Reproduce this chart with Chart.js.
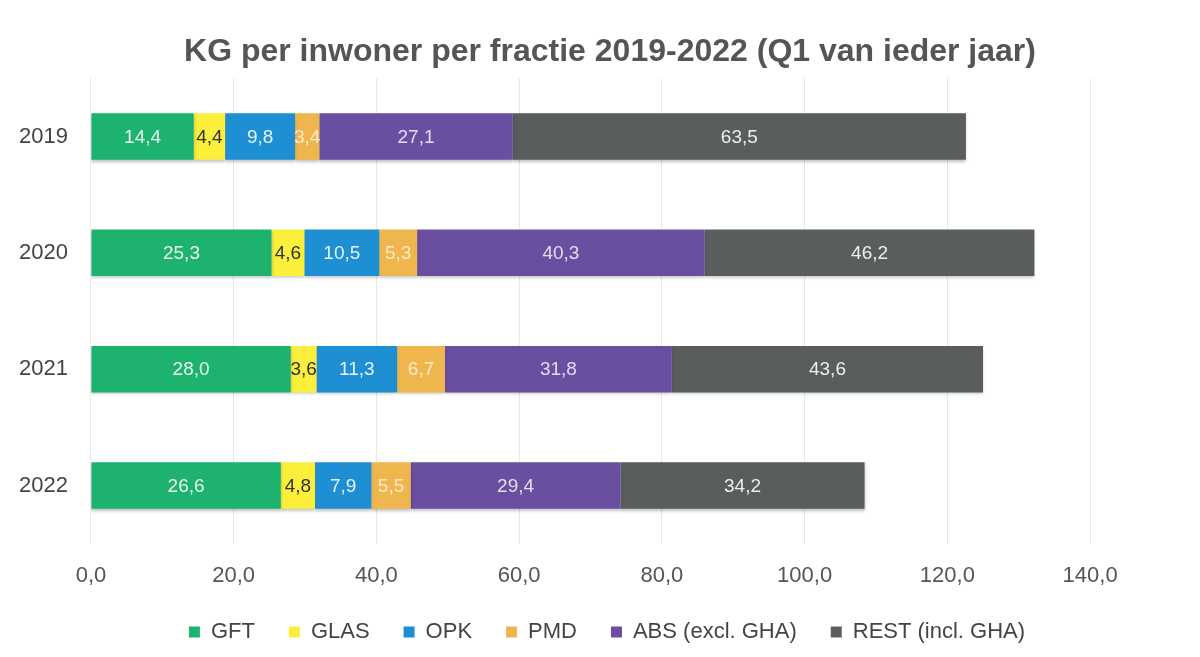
<!DOCTYPE html>
<html>
<head>
<meta charset="utf-8">
<script src="https://cdn.jsdelivr.net/npm/chart.js@4"></script>
<style>
  html, body { margin: 0; padding: 0; background: #ffffff; }
  #wrap { width: 1200px; height: 657px; }
</style>
</head>
<body>
<div id="wrap"><canvas id="chart" width="1200" height="657"></canvas></div>
<script>
const years = ['2019', '2020', '2021', '2022'];
const gft = [14.4, 25.3, 28.0, 26.6];
const glas = [4.4, 4.6, 3.6, 4.8];
const opk = [9.8, 10.5, 11.3, 7.9];
const pmd = [3.4, 5.3, 6.7, 5.5];
const abs = [27.1, 40.3, 31.8, 29.4];
const rest = [63.5, 46.2, 43.6, 34.2];
const xTicks = [0, 20, 40, 60, 80, 100, 120, 140];

const FONT = '"Liberation Sans", Arial, sans-serif';

const series = [
  { label: 'GFT', data: gft, color: '#1db26e', text: '#e8f5ee' },
  { label: 'GLAS', data: glas, color: '#fbef3c', text: '#333333' },
  { label: 'OPK', data: opk, color: '#1e8fd2', text: '#e6f1fa' },
  { label: 'PMD', data: pmd, color: '#f0b64e', text: '#fbe9c8' },
  { label: 'ABS (excl. GHA)', data: abs, color: '#6a4ea0', text: '#e4ddf0' },
  { label: 'REST (incl. GHA)', data: rest, color: '#5a5d5d', text: '#eeeeee' },
];

function fmt(v) {
  return v.toFixed(1).replace('.', ',');
}

// draws the value inside each bar segment
const valueLabels = {
  id: 'valueLabels',
  afterDatasetsDraw(chart) {
    const ctx = chart.ctx;
    ctx.save();
    ctx.font = '19px ' + FONT;
    ctx.textAlign = 'center';
    ctx.textBaseline = 'middle';
    chart.data.datasets.forEach((ds, i) => {
      const meta = chart.getDatasetMeta(i);
      meta.data.forEach((bar, j) => {
        ctx.fillStyle = series[i].text;
        const cx = (bar.x + bar.base) / 2;
        ctx.fillText(fmt(ds.data[j]), cx, bar.y + 1);
      });
    });
    ctx.restore();
  },
};

// soft shadow under the bars
const barShadow = {
  id: 'barShadow',
  beforeDatasetsDraw(chart) {
    chart.ctx.save();
    chart.ctx.shadowColor = 'rgba(0,0,0,0.25)';
    chart.ctx.shadowBlur = 3;
    chart.ctx.shadowOffsetY = 2;
  },
  afterDatasetsDraw(chart) {
    chart.ctx.restore();
  },
};

// nudge title and legend: legend closer to the axis, both a bit to the right
const boxNudge = {
  id: 'boxNudge',
  afterLayout(chart) {
    chart.legend.top -= 21;
    chart.legend.bottom -= 21;
    chart.legend.left += 9;
    chart.legend.right += 9;
    chart.titleBlock.left += 12;
    chart.titleBlock.right += 12;
  },
};

const ctx = document.getElementById('chart').getContext('2d');
new Chart(ctx, {
  type: 'bar',
  data: {
    labels: years,
    datasets: series.map((s) => ({
      label: s.label,
      data: s.data,
      backgroundColor: s.color,
      borderWidth: 0,
      categoryPercentage: 0.40,
      barPercentage: 1.0,
    })),
  },
  options: {
    responsive: false,
    animation: false,
    indexAxis: 'y',
    layout: {
      padding: { left: -4, right: 0, top: 0, bottom: -17 },
    },
    scales: {
      x: {
        stacked: true,
        min: 0,
        max: 155.4,
        afterBuildTicks: (axis) => {
          axis.ticks = xTicks.map((v) => ({ value: v }));
        },
        ticks: {
          color: '#555555',
          padding: 19,
          font: { size: 22, family: FONT },
          callback: (v) => fmt(v),
        },
        grid: { color: '#e8e8e8', drawTicks: false },
        border: { display: false },
      },
      y: {
        stacked: true,
        ticks: {
          color: '#444444',
          padding: 23,
          font: { size: 22, family: FONT },
        },
        grid: { display: false, drawTicks: false },
        border: { color: '#e8e8e8' },
      },
    },
    plugins: {
      title: {
        display: true,
        text: 'KG per inwoner per fractie 2019-2022 (Q1 van ieder jaar)',
        color: '#555555',
        font: { size: 32, weight: 'bold', family: FONT },
        padding: { top: 33, bottom: 7 },
      },
      legend: {
        position: 'bottom',
        labels: {
          color: '#444444',
          boxWidth: 11,
          boxHeight: 11,
          padding: 34,
          font: { size: 22, family: FONT },
        },
      },
      tooltip: { enabled: false },
    },
  },
  plugins: [barShadow, valueLabels, boxNudge],
});
</script>
</body>
</html>
